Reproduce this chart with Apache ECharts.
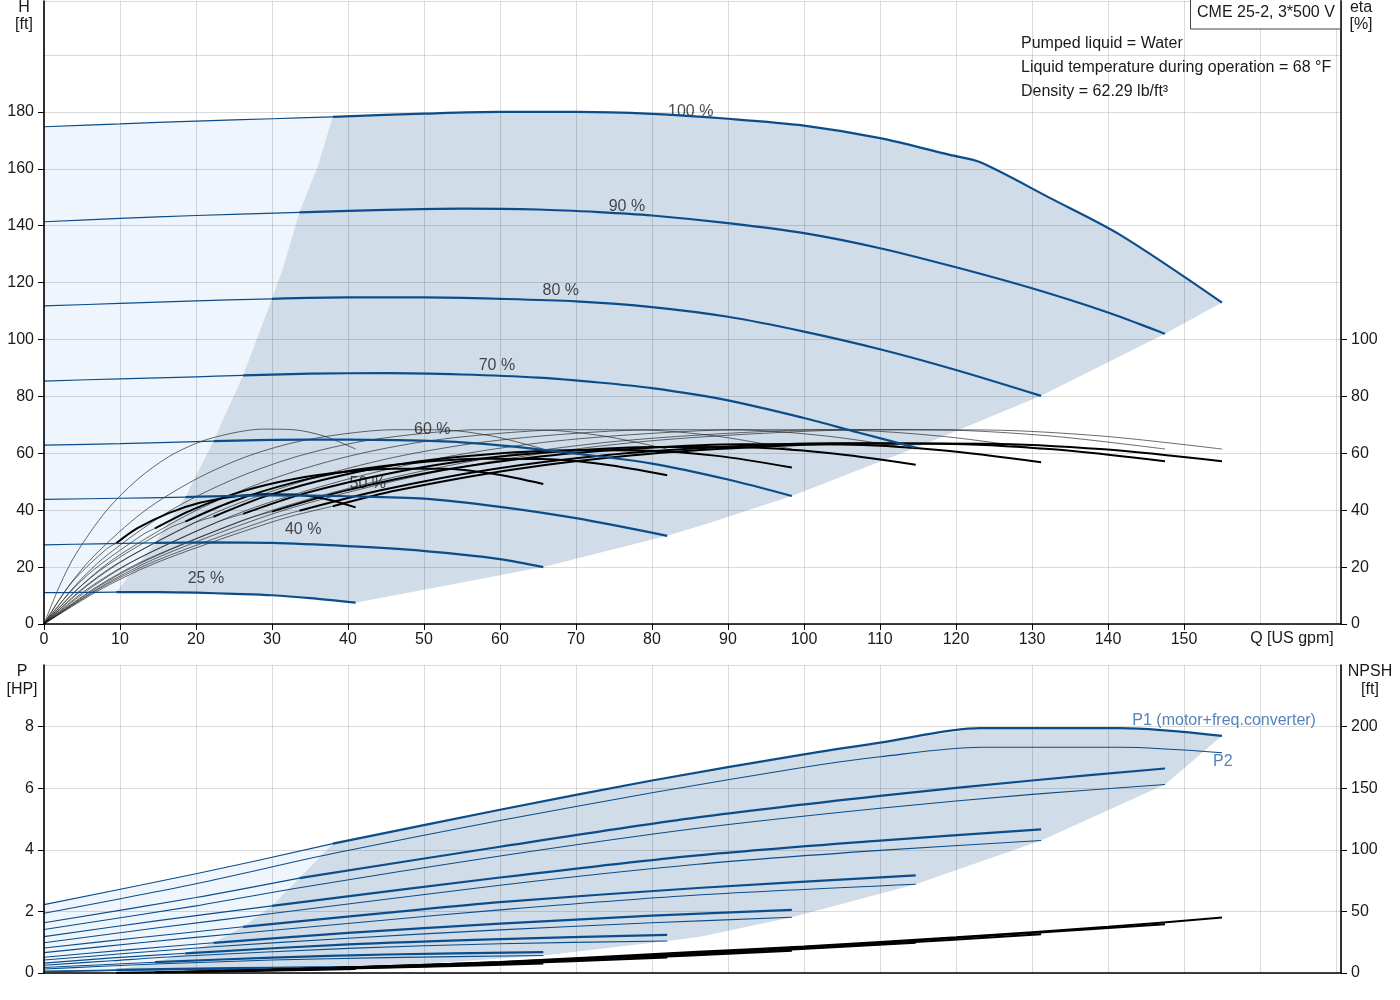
<!DOCTYPE html>
<html><head><meta charset="utf-8">
<script src="https://cdn.jsdelivr.net/npm/echarts@6/dist/echarts.min.js"></script>
<style>html,body{margin:0;padding:0;background:#fff}#chart{width:1400px;height:1000px}</style>
</head><body><div id="chart"></div><script>
// ---------- DATA ----------
const speedLabels = ['100 %', '90 %', '80 %', '70 %', '60 %', '50 %', '40 %', '25 %'];
const speedLabelPos = [[85.1,180],[76.7,146.9],[68.0,117.1],[59.6,90.7],[51.1,68.2],[42.6,49.2],[34.1,33.1],[21.3,15.8]];
const qMin = [38, 33.6, 30, 26.2, 22.3, 18.6, 14.6, 9.5];
const qMax = [155, 147.5, 131.2, 114.7, 98.4, 82, 65.7, 41];

const xTickLabels = [0,10,20,30,40,50,60,70,80,90,100,110,120,130,140,150];
const hTickLabels = [0,20,40,60,80,100,120,140,160,180];
const etaTickLabels = [0,20,40,60,80,100];
const pTickLabels = [0,2,4,6,8];
const npshTickLabels = [0,50,100,150,200];

// Head H [ft] vs Q [US gpm]
const headCurves = [
  [[0,174.8],[10,175.8],[20,176.8],[30,177.6],[38,178.3],[50,179.4],[60,180],[70,180],[80,179.3],[90,177.6],[100,175.2],[110,170.8],[119.2,164.9],[123.2,162.3],[132.4,149.7],[141.6,136.8],[155,113]],
  [[0,141.4],[10,142.6],[20,143.6],[33.6,144.7],[45,145.6],[55,146],[65,145.7],[73,144.8],[80,143.6],[90,140.9],[100,137.4],[110,132.1],[120,125.4],[130,118],[140,109.5],[147.5,102]],
  [[0,111.8],[10,112.7],[20,113.6],[30,114.3],[40,114.8],[50,114.8],[60,114.3],[70,113.4],[80,111.4],[90,108],[100,102.8],[110,96.6],[120,89.3],[131.2,80.2]],
  [[0,85.4],[10,86.2],[20,86.9],[26.2,87.4],[35,88],[45,88.2],[55,87.7],[65,86.6],[73,84.9],[80,82.9],[90,78.6],[100,72.4],[107,67.4],[114.7,62]],
  [[0,62.9],[10,63.4],[22.3,64.3],[30,64.7],[40,64.8],[52.6,64.2],[60,62.8],[70,59.9],[80,56.4],[90,50.8],[98.4,45]],
  [[0,43.8],[10,44.2],[18.6,44.6],[30,45.2],[40,44.9],[50,44.1],[60,41.2],[70,37.2],[82,31]],
  [[0,27.8],[7,28.2],[14.6,28.5],[22,28.7],[30,28.5],[40,27.4],[47,26.3],[55,24.4],[60,22.8],[65.7,20]],
  [[0,11.0],[5,11.1],[9.5,11.2],[15,11.2],[20,11.0],[25,10.6],[30,10.1],[35,9.1],[41,7.5]]
];
const headLeftEdge = [[9.5,11.2],[14.6,28.5],[18.6,44.6],[22.3,64.3],[26.2,87.4],[30,114.3],[31.5,125.6],[33.6,144.7],[36,160.7],[38,178.3]];
const headLowerEdge = [[155,113],[147.5,102],[131.2,80.2],[114.7,62],[98.4,45],[86.7,34.8],[82,31],[65.7,20],[41,7.5]];

// Pump efficiency eta [%] (thin)
const etaPumpCurves = [
  [[0,0],[7.75,13.5],[15.5,24],[31,39.5],[46.5,50.5],[62,58.5],[77.5,63.8],[93,66.8],[108.5,68.3],[124,68.2],[139.5,66],[155,61.5]],
  [[0,0],[7.4,13.5],[14.8,24],[29.5,39.5],[44.3,50.5],[59,58.5],[73.8,63.8],[88.5,66.8],[103.3,68.3],[118,68.2],[132.8,66],[147.5,61.5]],
  [[0,0],[6.6,13.5],[13.1,24],[26.2,39.5],[39.4,50.5],[52.5,58.5],[65.6,63.8],[78.7,66.8],[91.8,68.3],[105,68.2],[118.1,66],[131.2,61.5]],
  [[0,0],[5.7,13.5],[11.5,24],[22.9,39.5],[34.4,50.5],[45.9,58.5],[57.4,63.8],[68.8,66.8],[80.3,68.3],[91.8,68.2],[103.2,66],[114.7,61.5]],
  [[0,0],[4.9,13.5],[9.8,24],[19.7,39.5],[29.5,50.5],[39.4,58.5],[49.2,63.8],[59,66.8],[68.9,68.3],[78.7,68.2],[88.6,66],[98.4,61.5]],
  [[0,0],[4.1,13.5],[8.2,24],[16.4,39.5],[24.6,50.5],[32.8,58.5],[41,63.8],[49.2,66.8],[57.4,68.3],[65.6,68.2],[73.8,66],[82,61.5]],
  [[0,0],[3.3,13.5],[6.6,24],[13.1,39.5],[19.7,50.5],[26.3,58.5],[32.9,63.8],[39.4,66.8],[46,68.3],[52.6,68.2],[59.1,66],[65.7,61.5]],
  [[0,0],[2.1,13.7],[4.1,24.2],[8.2,39.8],[12.3,50.8],[16.4,58.8],[20.5,64],[24.6,67],[28.7,68.5],[32.8,68.3],[36.9,66],[41,61.5]]
];
// Total efficiency eta [%] (thin below qMin, thick above)
const etaTotalCurves = [
  [[0,0],[7.75,12.6],[15.5,22.3],[31,36.7],[38,41.4],[46.5,47.0],[62,54.4],[77.5,59.3],[93,62.1],[108.5,63.5],[124,63.4],[139.5,61.4],[155,57.2]],
  [[0,0],[7.4,12.6],[14.8,22.3],[29.5,36.7],[33.6,39.8],[44.3,47.0],[59,54.4],[73.8,59.3],[88.5,62.1],[103.3,63.5],[118,63.4],[132.8,61.4],[147.5,57.2]],
  [[0,0],[6.6,12.5],[13.1,22.2],[26.2,36.5],[30,39.5],[39.4,46.7],[52.5,54.1],[65.6,59.0],[78.7,61.8],[91.8,63.2],[105,63.1],[118.1,61.1],[131.2,56.9]],
  [[0,0],[5.7,12.3],[11.5,21.8],[22.9,35.9],[26.2,38.7],[34.4,46.0],[45.9,53.2],[57.4,58.1],[68.8,60.8],[80.3,62.2],[91.8,62.1],[103.2,60.1],[114.7,56.0]],
  [[0,0],[4.9,12.1],[9.8,21.5],[19.7,35.4],[22.3,37.7],[29.5,45.2],[39.4,52.4],[49.2,57.1],[59,59.8],[68.9,61.1],[78.7,61.0],[88.6,59.1],[98.4,55.0]],
  [[0,0],[4.1,11.5],[8.2,20.4],[16.4,33.6],[18.6,36.0],[24.6,42.9],[32.8,49.7],[41,54.2],[49.2,56.8],[57.4,58.1],[65.6,58.0],[73.8,56.1],[82,52.3]],
  [[0,0],[3.3,10.8],[6.6,19.2],[13.1,31.6],[14.6,33.6],[19.7,40.4],[26.3,46.8],[32.9,51.0],[39.4,53.4],[46,54.6],[52.6,54.6],[59.1,52.8],[65.7,49.2]],
  [[0,0],[2.1,9.0],[4.1,16.0],[8.2,26.3],[9.5,28.4],[12.3,33.7],[16.4,39.0],[20.5,42.6],[24.6,44.6],[28.7,45.6],[32.8,45.5],[36.9,44.0],[41,41.0]]
];

// Power P1 (motor+freq.converter) [HP]
const p1Curves = [
  [[0,2.22],[20,3.22],[38,4.2],[60,5.3],[80,6.25],[100,7.1],[110,7.48],[123.2,7.95],[141.6,7.95],[155,7.7]],
  [[0,1.63],[20,2.45],[33.6,3.08],[60,4.1],[86,5.05],[110,5.75],[130,6.25],[147.5,6.64]],
  [[0,1.18],[15,1.7],[30,2.18],[60,3.1],[86,3.82],[110,4.3],[131.2,4.66]],
  [[0,0.81],[13,1.16],[26.2,1.5],[45,1.95],[60,2.3],[86,2.76],[114.7,3.17]],
  [[0,0.51],[11,0.75],[22.3,0.98],[40,1.3],[60,1.6],[80,1.86],[98.4,2.05]],
  [[0,0.32],[9,0.49],[18.6,0.64],[40,0.93],[60,1.1],[82,1.24]],
  [[0,0.18],[7,0.26],[14.6,0.35],[30,0.5],[45,0.6],[65.7,0.68]],
  [[0,0.06],[5,0.08],[9.5,0.1],[20,0.14],[30,0.17],[41,0.19]]
];
// Power P2 [HP]
const p2Curves = [
  [[0,1.94],[20,2.9],[38,3.88],[60,4.95],[80,5.85],[100,6.68],[110,7.02],[123.2,7.33],[141.6,7.33],[155,7.15]],
  [[0,1.41],[20,2.18],[33.6,2.77],[60,3.8],[86,4.7],[110,5.35],[130,5.8],[147.5,6.12]],
  [[0,0.98],[15,1.47],[30,1.93],[60,2.85],[86,3.53],[110,3.98],[131.2,4.3]],
  [[0,0.66],[13,0.99],[26.2,1.3],[45,1.72],[60,2.05],[86,2.53],[114.7,2.88]],
  [[0,0.42],[11,0.64],[22.3,0.85],[40,1.13],[60,1.4],[80,1.63],[98.4,1.81]],
  [[0,0.25],[9,0.4],[18.6,0.55],[40,0.8],[60,0.95],[82,1.04]],
  [[0,0.13],[7,0.21],[14.6,0.29],[30,0.42],[45,0.5],[65.7,0.57]],
  [[0,0.04],[5,0.06],[9.5,0.08],[20,0.11],[30,0.13],[41,0.15]]
];
const pLeftEdge = [[9.5,0.1],[14.6,0.35],[18.6,0.64],[22.3,0.98],[26.2,1.5],[30,2.18],[33.6,3.08],[38,4.2]];
const pLowerEdge = [[155,7.7],[147.5,6.12],[131.2,4.3],[114.7,2.88],[98.4,1.81],[86.3,1.18],[82,1.04],[65.7,0.57],[41,0.15]];

// NPSH [ft]
const npshCurves = [
  [[38,4],[60,9],[86,17.2],[100,21.5],[120,29],[140,37.5],[155,45]],
  [[33.6,3.3],[60,8.8],[86,16.5],[110,24.5],[130,32.5],[147.5,39.5]],
  [[30,2.6],[60,8.4],[86,15.8],[110,23.5],[131.2,31.5]],
  [[26.2,2],[60,8],[86,15],[114.7,24.5]],
  [[22.3,1.5],[50,5.8],[75,11.5],[98.4,18]],
  [[18.6,1.1],[40,3.8],[60,7.5],[82,12.5]],
  [[14.6,0.7],[30,2.3],[50,5],[65.7,7.8]],
  [[9.5,0.3],[20,1],[30,2],[41,3.2]]
];

// ---------- CHART ----------
const FONT = '"Liberation Sans", Arial, Helvetica, sans-serif';
const BLUE = '#0b4d8a';
const GRIDC = 'rgba(0,0,0,0.14)';
const XMAX = 170.66;

const chart = echarts.init(document.getElementById('chart'), null, {renderer: 'canvas'});

function line(data, xi, yi, color, width, z, opacity) {
  return {type: 'line', xAxisIndex: xi, yAxisIndex: yi, data: data, showSymbol: false, symbol: 'none',
    smooth: 0.3, silent: true, z: z, animation: false,
    lineStyle: {color: color, width: width, opacity: opacity == null ? 1 : opacity}};
}
function poly(points, color, xi, yi) {
  return {type: 'custom', xAxisIndex: xi, yAxisIndex: yi, silent: true, z: 0, animation: false,
    data: [[0, 0]],
    renderItem: function (params, api) {
      return {type: 'polygon', shape: {points: points.map(function (p) { return api.coord(p); })},
        style: {fill: color}};
    }};
}

const series = [];
// shading, top chart
const h100 = headCurves[0], h25 = headCurves[7];
const topDark = [].concat(headLeftEdge, h100.filter(p => p[0] > 38), headLowerEdge.slice(1),
  h25.filter(p => p[0] > 9.5 && p[0] < 41).reverse());
const topLight = [].concat([[0, h25[0][1]]], h100.filter(p => p[0] <= 38), headLeftEdge.slice().reverse().slice(1),
  h25.filter(p => p[0] < 9.5).reverse());
series.push(poly(topLight, '#eef5fc', 0, 0));
series.push(poly(topDark, '#d0dce8', 0, 0));
// shading, bottom chart
const p100 = p1Curves[0], p25 = p1Curves[7], p25b = p2Curves[7];
const botDark = [].concat(pLeftEdge, p100.filter(p => p[0] > 38), pLowerEdge.slice(1),
  p25b.filter(p => p[0] > 9.5 && p[0] < 41).reverse());
const botLight = [].concat([[0, p25[0][1]]], p100.filter(p => p[0] <= 38), pLeftEdge.slice().reverse().slice(1),
  p25.filter(p => p[0] < 9.5).reverse());
series.push(poly(botLight, '#eef5fc', 2, 3));
series.push(poly(botDark, '#d0dce8', 2, 3));

// speed labels
series.push({type: 'scatter', xAxisIndex: 0, yAxisIndex: 0, symbolSize: 1, silent: true, z: 2, animation: false,
  itemStyle: {color: 'rgba(0,0,0,0)'},
  label: {show: true, position: 'inside', formatter: '{b}', fontSize: 16, fontFamily: FONT, color: '#1a1a1a'},
  data: speedLabels.map((s, i) => ({name: s, value: speedLabelPos[i]}))});

for (let i = 0; i < speedLabels.length; i++) {
  const q0 = qMin[i];
  // efficiency
  series.push(line(etaPumpCurves[i], 0, 1, '#222', 0.8, 3, 0.85));
  series.push(line(etaTotalCurves[i].filter(p => p[0] <= q0), 0, 1, '#222', 0.8, 3, 0.85));
  series.push(line(etaTotalCurves[i].filter(p => p[0] >= q0), 0, 1, '#000', 2, 4));
  // head
  series.push(line(headCurves[i].filter(p => p[0] <= q0), 0, 0, BLUE, 1.2, 5));
  series.push(line(headCurves[i].filter(p => p[0] >= q0), 0, 0, BLUE, 2.2, 5));
  // power
  series.push(line(p2Curves[i], 2, 3, BLUE, 1.1, 3));
  series.push(line(p1Curves[i].filter(p => p[0] <= q0), 2, 3, BLUE, 1.1, 4));
  series.push(line(p1Curves[i].filter(p => p[0] >= q0), 2, 3, BLUE, 2.2, 4));
  // NPSH
  series.push(line(npshCurves[i], 2, 4, '#000', 2, 5));
}
// P1 / P2 labels
series.push({type: 'scatter', xAxisIndex: 2, yAxisIndex: 3, symbolSize: 1, silent: true, z: 6, animation: false,
  itemStyle: {color: 'rgba(0,0,0,0)'},
  label: {show: true, position: 'inside', formatter: '{b}', fontSize: 16, fontFamily: FONT, color: '#2a63a6'},
  data: [
    {name: 'P1 (motor+freq.converter)', value: [143.2, 8.19], label: {align: 'left'}},
    {name: 'P2', value: [155.1, 6.87]}
  ]});

const axisLineStyle = {color: '#000', width: 1.6};
const labelStyle = {fontSize: 16, fontFamily: FONT, color: '#1a1a1a'};
function gridAxis(gi, max, interval) {
  return {gridIndex: gi, type: 'value', min: 0, max: max, interval: interval, z: 1, silent: true,
    axisLine: {show: false, onZero: false}, axisTick: {show: false}, axisLabel: {show: false},
    splitLine: {show: true, lineStyle: {color: GRIDC, width: 1}}};
}

const option = {
  animation: false,
  backgroundColor: '#fff',
  textStyle: {fontFamily: FONT},
  grid: [
    {left: 44, top: 1, width: 1297, height: 623, containLabel: false, outerBoundsMode: 'none'},
    {left: 44, top: 665, width: 1297, height: 308, containLabel: false, outerBoundsMode: 'none'}
  ],
  xAxis: [
    {gridIndex: 0, type: 'value', min: 0, max: XMAX, position: 'bottom', z: 10, silent: true,
      axisLine: {show: true, onZero: false, lineStyle: axisLineStyle},
      axisTick: {show: true, length: 6, customValues: xTickLabels, lineStyle: {color: '#000'}},
      axisLabel: Object.assign({customValues: xTickLabels, margin: 8}, labelStyle),
      splitLine: {show: false}},
    gridAxis(0, XMAX, 10),
    {gridIndex: 1, type: 'value', min: 0, max: XMAX, position: 'bottom', z: 10, silent: true,
      axisLine: {show: true, onZero: false, lineStyle: axisLineStyle},
      axisTick: {show: false}, axisLabel: {show: false}, splitLine: {show: false}},
    gridAxis(1, XMAX, 10)
  ],
  yAxis: [
    {gridIndex: 0, type: 'value', min: 0, max: 219, position: 'left', z: 10, silent: true,
      axisLine: {show: true, onZero: false, lineStyle: axisLineStyle},
      axisTick: {show: true, length: 6, customValues: hTickLabels, lineStyle: {color: '#000'}},
      axisLabel: Object.assign({customValues: hTickLabels, margin: 10}, labelStyle),
      splitLine: {show: false}},
    {gridIndex: 0, type: 'value', min: 0, max: 219, position: 'right', z: 10, silent: true,
      axisLine: {show: true, onZero: false, lineStyle: axisLineStyle},
      axisTick: {show: true, length: 6, customValues: etaTickLabels, lineStyle: {color: '#000'}},
      axisLabel: Object.assign({customValues: etaTickLabels, margin: 10}, labelStyle),
      splitLine: {show: false}},
    gridAxis(0, 219, 20),
    {gridIndex: 1, type: 'value', min: 0, max: 10, position: 'left', z: 10, silent: true,
      axisLine: {show: true, onZero: false, lineStyle: axisLineStyle},
      axisTick: {show: true, length: 6, customValues: pTickLabels, lineStyle: {color: '#000'}},
      axisLabel: Object.assign({customValues: pTickLabels, margin: 10}, labelStyle),
      splitLine: {show: false}},
    {gridIndex: 1, type: 'value', min: 0, max: 250, position: 'right', z: 10, silent: true,
      axisLine: {show: true, onZero: false, lineStyle: axisLineStyle},
      axisTick: {show: true, length: 6, customValues: npshTickLabels, lineStyle: {color: '#000'}},
      axisLabel: Object.assign({customValues: npshTickLabels, margin: 10}, labelStyle),
      splitLine: {show: false}},
    gridAxis(1, 10, 2)
  ],
  graphic: [
    {type: 'rect', z: 20, shape: {x: 1190.5, y: -1, width: 150, height: 30}, style: {fill: '#fff', stroke: '#444', lineWidth: 1}},
    {type: 'text', z: 21, x: 1197, y: 13, style: {text: 'CME 25-2, 3*500 V', font: '16px ' + FONT, fill: '#1a1a1a', textAlign: 'left', textVerticalAlign: 'middle', align: 'left', verticalAlign: 'middle'}},
    {type: 'text', z: 21, x: 1021, y: 44, style: {text: 'Pumped liquid = Water', font: '16px ' + FONT, fill: '#1a1a1a', textAlign: 'left', textVerticalAlign: 'middle', align: 'left', verticalAlign: 'middle'}},
    {type: 'text', z: 21, x: 1021, y: 68, style: {text: 'Liquid temperature during operation = 68 °F', font: '16px ' + FONT, fill: '#1a1a1a', textAlign: 'left', textVerticalAlign: 'middle', align: 'left', verticalAlign: 'middle'}},
    {type: 'text', z: 21, x: 1021, y: 92, style: {text: 'Density = 62.29 lb/ft³', font: '16px ' + FONT, fill: '#1a1a1a', textAlign: 'left', textVerticalAlign: 'middle', align: 'left', verticalAlign: 'middle'}},
    {type: 'text', z: 21, x: 24, y: 8, style: {text: 'H', font: '16px ' + FONT, fill: '#1a1a1a', textAlign: 'center', textVerticalAlign: 'middle', align: 'center', verticalAlign: 'middle'}},
    {type: 'text', z: 21, x: 24, y: 25, style: {text: '[ft]', font: '16px ' + FONT, fill: '#1a1a1a', textAlign: 'center', textVerticalAlign: 'middle', align: 'center', verticalAlign: 'middle'}},
    {type: 'text', z: 21, x: 1361, y: 8, style: {text: 'eta', font: '16px ' + FONT, fill: '#1a1a1a', textAlign: 'center', textVerticalAlign: 'middle', align: 'center', verticalAlign: 'middle'}},
    {type: 'text', z: 21, x: 1361, y: 25, style: {text: '[%]', font: '16px ' + FONT, fill: '#1a1a1a', textAlign: 'center', textVerticalAlign: 'middle', align: 'center', verticalAlign: 'middle'}},
    {type: 'text', z: 21, x: 1292, y: 639, style: {text: 'Q [US gpm]', font: '16px ' + FONT, fill: '#1a1a1a', textAlign: 'center', textVerticalAlign: 'middle', align: 'center', verticalAlign: 'middle'}},
    {type: 'text', z: 21, x: 22, y: 672, style: {text: 'P', font: '16px ' + FONT, fill: '#1a1a1a', textAlign: 'center', textVerticalAlign: 'middle', align: 'center', verticalAlign: 'middle'}},
    {type: 'text', z: 21, x: 22, y: 690, style: {text: '[HP]', font: '16px ' + FONT, fill: '#1a1a1a', textAlign: 'center', textVerticalAlign: 'middle', align: 'center', verticalAlign: 'middle'}},
    {type: 'text', z: 21, x: 1370, y: 672, style: {text: 'NPSH', font: '16px ' + FONT, fill: '#1a1a1a', textAlign: 'center', textVerticalAlign: 'middle', align: 'center', verticalAlign: 'middle'}},
    {type: 'text', z: 21, x: 1370, y: 690, style: {text: '[ft]', font: '16px ' + FONT, fill: '#1a1a1a', textAlign: 'center', textVerticalAlign: 'middle', align: 'center', verticalAlign: 'middle'}}
  ],
  series: series
};
chart.setOption(option);
</script></body></html>
